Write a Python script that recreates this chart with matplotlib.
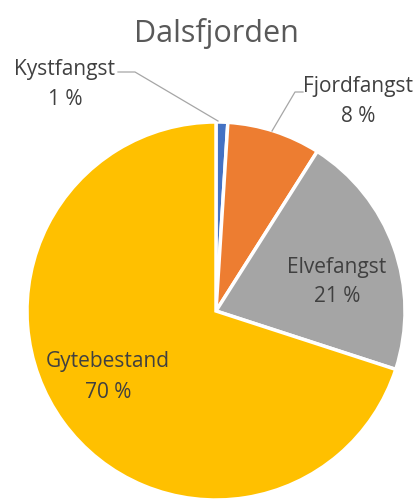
import numpy as np
import matplotlib.pyplot as plt

plt.rcParams['font.family'] = ['Open Sans', 'DejaVu Sans']

labels = ['Kystfangst', 'Fjordfangst', 'Elvefangst', 'Gytebestand']
shares = [1, 8, 21, 70]
colors = ['#4472C4', '#ED7D31', '#A5A5A5', '#FFC000']
explode = [0, 0.005, 0.012, 0]

W, H = 417, 501
fig = plt.figure(figsize=(W / 100, H / 100), dpi=100)
ax = fig.add_axes([0, 0, 1, 1])

# pie placed in pixel coords (y measured from the top of the picture)
cx, cy, r = 216, H - 311, 189
wedges, _ = ax.pie(shares, colors=colors, startangle=90, counterclock=False,
                   explode=explode, center=(cx, cy), radius=r, frame=True,
                   wedgeprops=dict(edgecolor='white', linewidth=2.5))
ax.set_xlim(0, W)
ax.set_ylim(0, H)
ax.set_aspect('equal')
ax.axis('off')

ax.text(216, H - 33, 'Dalsfjorden', ha='center', va='center',
        fontsize=22, color='#595959')

txt = '#404040'
fs = 15

def label(i, x, y):
    ax.text(x, H - y, labels[i], ha='center', va='center', fontsize=fs, color=txt)
    ax.text(x, H - y - 30, f'{shares[i]} %', ha='center', va='center',
            fontsize=fs, color=txt)

label(0, 65, 69)
label(1, 358, 86)
label(2, 337, 267)
label(3, 108, 362)

# leader lines to the two thin slices
ax.plot([118, 135, 218], [H - 72, H - 72, H - 121], color='#A6A6A6', lw=0.9)
ax.plot([303, 295, 272], [H - 92, H - 92, H - 131], color='#A6A6A6', lw=0.9)

fig.savefig('out.png', dpi=100, facecolor='white')
